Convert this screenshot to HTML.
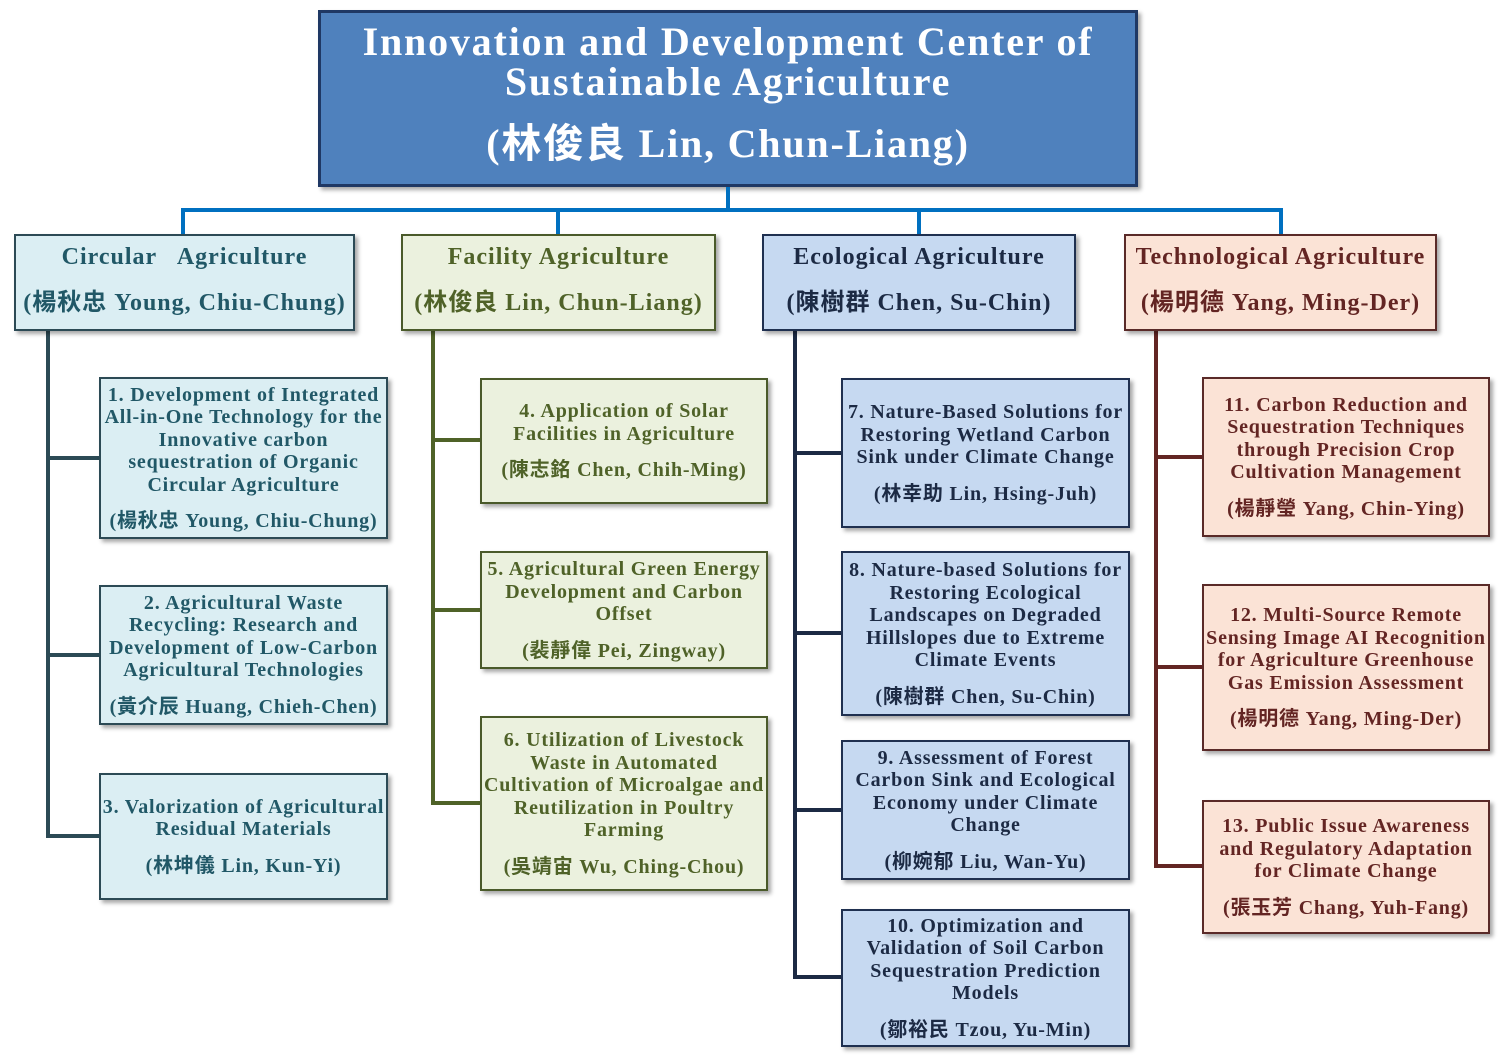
<!DOCTYPE html>
<html><head><meta charset="utf-8"><style>
body{margin:0;width:1500px;height:1058px;background:#fff;position:relative;overflow:hidden;font-family:"Liberation Serif","Noto Sans CJK TC",serif;font-weight:bold}
.b{position:absolute;box-sizing:border-box;border:2px solid #3a4a55;display:flex;flex-direction:column;justify-content:center;align-items:center;text-align:center;box-shadow:3px 3px 4px rgba(0,0,0,.35);white-space:nowrap}
.s{font-size:20px;line-height:22.5px;letter-spacing:0.8px}
.s .n{margin-top:14px}
.c{font-size:24px;line-height:46px;letter-spacing:1px;padding-bottom:5px}
.l{position:absolute}
.C{background:#dbeef3;color:#215867;border-color:#2c4a55}
.F{background:#ebf1de;color:#4f6228;border-color:#4a5a2a}
.E{background:#c6d9f1;color:#1c2a44;border-color:#1f3050}
.T{background:#fbe3d6;color:#632523;border-color:#5a2a28}
</style></head><body>
<div class="b" style="left:318px;top:10px;width:820px;height:177px;background:#4f81bd;border:3px solid #1f3864;color:#fff;font-size:40px;line-height:40px;letter-spacing:1.8px;padding-bottom:12px">
<div>Innovation and Development Center of</div><div>Sustainable Agriculture</div><div style="margin-top:22px">(林俊良 Lin, Chun-Liang)</div></div>
<div class="l" style="left:726px;top:187px;width:4px;height:24px;background:#0070c0"></div>
<div class="l" style="left:181px;top:208px;width:1102px;height:4px;background:#0070c0"></div>
<div class="l" style="left:181px;top:208px;width:4px;height:27px;background:#0070c0"></div>
<div class="l" style="left:556px;top:208px;width:4px;height:27px;background:#0070c0"></div>
<div class="l" style="left:917px;top:208px;width:4px;height:27px;background:#0070c0"></div>
<div class="l" style="left:1279px;top:208px;width:4px;height:27px;background:#0070c0"></div>
<div class="l" style="left:46px;top:331px;width:4px;height:507px;background:#2c4a55"></div>
<div class="l" style="left:431px;top:331px;width:4px;height:474px;background:#4f6228"></div>
<div class="l" style="left:793px;top:331px;width:4px;height:648px;background:#1c2a44"></div>
<div class="l" style="left:1154px;top:331px;width:4px;height:537px;background:#632523"></div>
<div class="l" style="left:46px;top:456px;width:53px;height:4px;background:#2c4a55"></div>
<div class="l" style="left:46px;top:653px;width:53px;height:4px;background:#2c4a55"></div>
<div class="l" style="left:46px;top:834px;width:53px;height:4px;background:#2c4a55"></div>
<div class="l" style="left:431px;top:438px;width:49px;height:4px;background:#4f6228"></div>
<div class="l" style="left:431px;top:608px;width:49px;height:4px;background:#4f6228"></div>
<div class="l" style="left:431px;top:801px;width:49px;height:4px;background:#4f6228"></div>
<div class="l" style="left:793px;top:451px;width:48px;height:4px;background:#1c2a44"></div>
<div class="l" style="left:793px;top:631px;width:48px;height:4px;background:#1c2a44"></div>
<div class="l" style="left:793px;top:808px;width:48px;height:4px;background:#1c2a44"></div>
<div class="l" style="left:793px;top:975px;width:48px;height:4px;background:#1c2a44"></div>
<div class="l" style="left:1154px;top:455px;width:48px;height:4px;background:#632523"></div>
<div class="l" style="left:1154px;top:665px;width:48px;height:4px;background:#632523"></div>
<div class="l" style="left:1154px;top:864px;width:48px;height:4px;background:#632523"></div>
<div class="b c C" style="left:14px;top:234px;width:341px;height:97px"><div>Circular&nbsp;&nbsp; Agriculture</div><div>(楊秋忠 Young, Chiu-Chung)</div></div>
<div class="b c F" style="left:401px;top:234px;width:315px;height:97px"><div>Facility Agriculture</div><div>(林俊良 Lin, Chun-Liang)</div></div>
<div class="b c E" style="left:762px;top:234px;width:314px;height:97px"><div>Ecological Agriculture</div><div>(陳樹群 Chen, Su-Chin)</div></div>
<div class="b c T" style="left:1124px;top:234px;width:313px;height:97px"><div>Technological Agriculture</div><div>(楊明德 Yang, Ming-Der)</div></div>
<div class="b s C" style="left:99px;top:377px;width:289px;height:162px"><div>1. Development of Integrated<br>All-in-One Technology for the<br>Innovative carbon<br>sequestration of Organic<br>Circular Agriculture</div><div class="n">(楊秋忠 Young, Chiu-Chung)</div></div>
<div class="b s C" style="left:99px;top:585px;width:289px;height:140px"><div>2. Agricultural Waste<br>Recycling: Research and<br>Development of Low-Carbon<br>Agricultural Technologies</div><div class="n">(黃介辰 Huang, Chieh-Chen)</div></div>
<div class="b s C" style="left:99px;top:773px;width:289px;height:127px"><div>3. Valorization of Agricultural<br>Residual Materials</div><div class="n">(林坤儀 Lin, Kun-Yi)</div></div>
<div class="b s F" style="left:480px;top:378px;width:288px;height:126px"><div>4. Application of Solar<br>Facilities in Agriculture</div><div class="n">(陳志銘 Chen, Chih-Ming)</div></div>
<div class="b s F" style="left:480px;top:551px;width:288px;height:118px"><div>5. Agricultural Green Energy<br>Development and Carbon<br>Offset</div><div class="n">(裴靜偉 Pei, Zingway)</div></div>
<div class="b s F" style="left:480px;top:716px;width:288px;height:175px"><div>6. Utilization of Livestock<br>Waste in Automated<br>Cultivation of Microalgae and<br>Reutilization in Poultry<br>Farming</div><div class="n">(吳靖宙 Wu, Ching-Chou)</div></div>
<div class="b s E" style="left:841px;top:378px;width:289px;height:150px"><div>7. Nature-Based Solutions for<br>Restoring Wetland Carbon<br>Sink under Climate Change</div><div class="n">(林幸助 Lin, Hsing-Juh)</div></div>
<div class="b s E" style="left:841px;top:551px;width:289px;height:165px"><div>8. Nature-based Solutions for<br>Restoring Ecological<br>Landscapes on Degraded<br>Hillslopes due to Extreme<br>Climate Events</div><div class="n">(陳樹群 Chen, Su-Chin)</div></div>
<div class="b s E" style="left:841px;top:740px;width:289px;height:140px"><div>9. Assessment of Forest<br>Carbon Sink and Ecological<br>Economy under Climate<br>Change</div><div class="n">(柳婉郁 Liu, Wan-Yu)</div></div>
<div class="b s E" style="left:841px;top:909px;width:289px;height:138px"><div>10. Optimization and<br>Validation of Soil Carbon<br>Sequestration Prediction<br>Models</div><div class="n">(鄒裕民 Tzou, Yu-Min)</div></div>
<div class="b s T" style="left:1202px;top:377px;width:288px;height:160px"><div>11. Carbon Reduction and<br>Sequestration Techniques<br>through Precision Crop<br>Cultivation Management</div><div class="n">(楊靜瑩 Yang, Chin-Ying)</div></div>
<div class="b s T" style="left:1202px;top:584px;width:288px;height:167px"><div>12. Multi-Source Remote<br>Sensing Image AI Recognition<br>for Agriculture Greenhouse<br>Gas Emission Assessment</div><div class="n">(楊明德 Yang, Ming-Der)</div></div>
<div class="b s T" style="left:1202px;top:800px;width:288px;height:134px"><div>13. Public Issue Awareness<br>and Regulatory Adaptation<br>for Climate Change</div><div class="n">(張玉芳 Chang, Yuh-Fang)</div></div>
</body></html>
